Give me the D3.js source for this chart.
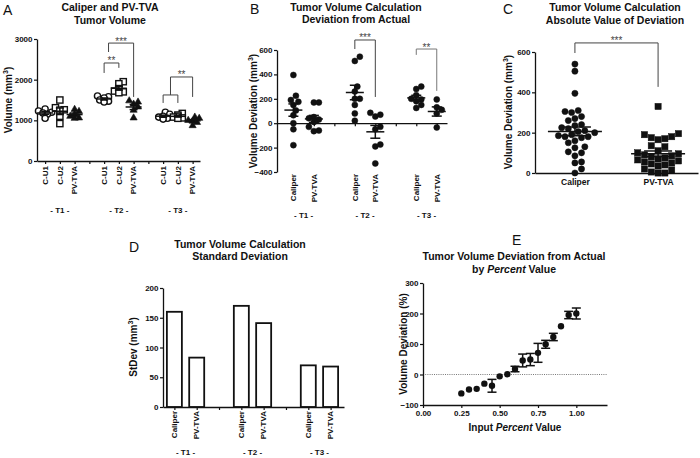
<!DOCTYPE html>
<html><head><meta charset="utf-8">
<script src="https://cdn.jsdelivr.net/npm/d3@7"></script>
<style>body{margin:0;background:#fff}</style>
</head><body><svg id="chart" width="700" height="458"></svg>
<script>
// ================= DATA =================
// Panel A – Caliper and PV-TVA Tumor Volume (mm3)
const aGroups = ["- T1 -", "- T2 -", "- T3 -"];
const aCategories = ["C-U1", "C-U2", "PV-TVA"];
const aCU1 = [[1280,1230,1200,1180,1150,1050],[1600,1580,1550,1500,1470,1450],[1200,1150,1100,1080,1050,1030]];
const aCU2 = [[1500,1310,1260,1250,1100,920],[1950,1900,1780,1720,1700,1680],[1170,1130,1100,1080,1060,1050]];
const aPVTVA = [[1270,1220,1150,1100,1060,1050],[1480,1450,1400,1330,1250,1060],[1080,1050,1000,980,950,870]];
const aYTicks = [0,1000,2000,3000];
// brackets: [left slot, right slot, top, left foot, right foot, label]
const aBrackets = [[4,5,2410,2165,2290,"**"],[4.3,6,2900,2680,1575,"***"],[8,9,1624,1427,1427,""],[8.5,10,2066,1624,1575,"**"]];

// Panel B – Deviation from Actual (mm3)
const bGroups = ["- T1 -", "- T2 -", "- T3 -"];
const bCategories = ["Caliper", "PV-TVA"];
const bCaliper = [[395,225,190,175,150,105,65,0,-50,-180],[545,510,300,260,200,200,150,80,20],[300,280,230,200,195,180,150,125]];
const bPVTVA = [[170,170,50,40,30,10,-30,-60,-65],[85,70,55,-30,-50,-175,-190,-330],[195,130,110,80,-35]];
const bYTicks = [-400,-200,0,200,400,600];
const bBrackets = [[3,4,682,608,215,"***"],[6,7,608,560,265,"**"]];

// Panel C – Absolute value of deviation (mm3)
const cCategories = ["Caliper", "PV-TVA"];
const cCaliper = [540,505,395,310,305,300,280,270,260,240,235,225,220,210,205,200,190,185,180,180,175,160,150,130,125,105,100,85,55,50,20,0];
const cPVTVA = [330,195,190,180,175,170,165,135,130,110,100,95,90,85,80,75,70,65,60,55,50,45,40,35,20,15,5,0,0];
const cYTicks = [0,200,400,600];
const cBracket = [645,595,427,"***"];

// Panel D – Standard deviation (mm3)
const dGroups = ["- T1 -", "- T2 -", "- T3 -"];
const dCategories = ["Caliper", "PV-TVA"];
const dCaliper = [160,170,70];
const dPVTVA = [83,141,68];
const dYTicks = [0,50,100,150,200];

// Panel E – Deviation by percent value (%)
const ePercent = [0.25,0.30,0.35,0.40,0.45,0.50,0.55,0.60,0.65,0.70,0.75,0.80,0.85,0.90,0.95,1.00];
const eMean =    [-62,-49,-47,-30,-37,-6,1,18,46,49,71,99,123,158,195,200];
const eErr =     [0,0,0,0,21,0,0,9,21,20,31,13,12,0,12,18];
const eXTicks = [0,0.25,0.5,0.75,1.0];
const eYTicks = [-100,0,100,200,300];

// ================= HELPERS =================
const F = "'Liberation Sans', Arial, Helvetica, sans-serif";
const INK = "#111";
const svg = d3.select("#chart");

function txt(x, y, s, o = {}) {
  const t = svg.append("text").attr("x", x).attr("y", y).text(s)
    .attr("font-family", F).attr("font-size", o.size || 8)
    .attr("font-weight", o.weight || "bold")
    .attr("text-anchor", o.anchor || "middle").attr("fill", o.fill || INK);
  if (o.rotate) t.attr("transform", `rotate(-90,${x},${y})`);
  if (o.dy) t.attr("dy", o.dy);
  return t;
}
function rotTitle(x, y, pre, sup, post, size = 10) {
  const t = svg.append("text").attr("transform", `translate(${x},${y}) rotate(-90)`)
    .attr("text-anchor", "middle").attr("font-family", F).attr("font-weight", "bold")
    .attr("font-size", size).attr("fill", INK);
  t.append("tspan").text(pre);
  if (sup) {
    t.append("tspan").attr("dy", -size * 0.4).attr("font-size", size * 0.7).text(sup);
    t.append("tspan").attr("dy", size * 0.4).text(post);
  }
  return t;
}
function title(x, y, lines, size = 10.5) {
  lines.forEach((l, i) => txt(x, y + i * 12.5, l, { size }));
}
function letter(x, y, s) { txt(x, y, s, { size: 14, weight: "normal", anchor: "start" }); }
function styleAxis(g) {
  g.attr("font-size", null).attr("font-family", null);
  g.select(".domain").attr("stroke", INK).attr("stroke-width", 1.3);
  g.selectAll(".tick line").attr("stroke", INK).attr("stroke-width", 1.2);
  g.selectAll(".tick text").attr("font-family", F).attr("font-weight", "bold")
    .attr("font-size", 8).attr("fill", INK);
  return g;
}
function yAxis(scale, x, ticks) {
  return styleAxis(svg.append("g").attr("transform", `translate(${x},0)`)
    .call(d3.axisLeft(scale).tickValues(ticks).tickFormat(d3.format("d")).tickSize(3).tickSizeOuter(0).tickPadding(1.5)));
}
function slotAxis(scale, y, slots) {
  return styleAxis(svg.append("g").attr("transform", `translate(0,${y})`)
    .call(d3.axisBottom(scale).tickValues(slots).tickFormat("").tickSize(3).tickSizeOuter(0)));
}
// simple beeswarm: returns horizontal offsets
function swarm(ys, d, maxOff) {
  const idx = d3.range(ys.length).sort((a, b) => ys[b] - ys[a]);
  const placed = [], off = new Array(ys.length).fill(0);
  for (const i of idx) {
    let best = 0;
    for (let s = 0; s < 60; s++) {
      const c = s === 0 ? 0 : (s % 2 ? 1 : -1) * Math.ceil(s / 2) * d * 0.5;
      if (Math.abs(c) > maxOff) { best = 0; break; }
      if (placed.every(p => Math.hypot(p.x - c, p.y - ys[i]) >= d)) { best = c; break; }
    }
    off[i] = best; placed.push({ x: best, y: ys[i] });
  }
  return off;
}
function column(vals, cx, y, o) {
  const ys = vals.map(y);
  const offs = swarm(ys, o.d, o.maxOff || 40);
  const g = svg.append("g");
  vals.forEach((v, i) => {
    const px = cx + offs[i], py = ys[i];
    if (o.shape === "circle") {
      g.append("circle").attr("cx", px).attr("cy", py).attr("r", o.r)
        .attr("fill", o.open ? "#fff" : INK).attr("stroke", INK).attr("stroke-width", o.open ? 1.4 : 0.5);
    } else if (o.shape === "square") {
      g.append("rect").attr("x", px - o.r).attr("y", py - o.r).attr("width", 2 * o.r).attr("height", 2 * o.r)
        .attr("fill", o.open ? "#fff" : INK).attr("stroke", INK).attr("stroke-width", o.open ? 1.4 : 0.5);
    } else {
      g.append("path").attr("transform", `translate(${px},${py})`)
        .attr("d", d3.symbol(d3.symbolTriangle, 22)())
        .attr("fill", INK).attr("stroke", INK).attr("stroke-width", 0.6);
    }
  });
  const m = d3.mean(vals), sem = d3.deviation(vals) / Math.sqrt(vals.length);
  const lg = svg.append("g").attr("stroke", INK).attr("stroke-width", 1.5);
  lg.append("line").attr("x1", cx - o.mh).attr("x2", cx + o.mh).attr("y1", y(m)).attr("y2", y(m));
  lg.append("line").attr("x1", cx).attr("x2", cx).attr("y1", y(m - sem)).attr("y2", y(m + sem));
  [m - sem, m + sem].forEach(v => lg.append("line").attr("x1", cx - o.ch).attr("x2", cx + o.ch).attr("y1", y(v)).attr("y2", y(v)));
}
function bracket(x1, x2, yTop, yL, yR, label, color = "#444") {
  const p = d3.path();
  p.moveTo(x1, yL); p.lineTo(x1, yTop); p.lineTo(x2, yTop); p.lineTo(x2, yR);
  svg.append("path").attr("d", p.toString()).attr("fill", "none").attr("stroke", color).attr("stroke-width", 1);
  if (label) txt((x1 + x2) / 2, yTop + 1.5, label, { size: 10, weight: "normal", fill: "#444" });
}

// ================= PANEL A =================
{
  const y = d3.scaleLinear().domain([0, 3000]).range([161, 39]);
  const x = d3.scaleLinear().domain([-0.55, 10.5]).range([37, 200]);
  letter(3, 15, "A");
  title(110, 11, ["Caliper and PV-TVA", "Tumor Volume"]);
  yAxis(y, 37, aYTicks);
  slotAxis(x, 161, d3.range(0, 11));
  rotTitle(11.5, 100, "Volume (mm", "3", ")");
  const series = [[aCU1, "circle", true], [aCU2, "square", true], [aPVTVA, "tri", false]];
  aGroups.forEach((gname, gi) => {
    series.forEach(([arr, shape, open], si) => {
      const slot = gi * 4 + si;
      column(arr[gi], x(slot), y, { shape, open, r: 3.1, d: 4.4, maxOff: 7, mh: 8, ch: 4 });
      txt(x(slot), 166, aCategories[si], { rotate: true, anchor: "end", dy: "0.35em" });
    });
    txt(x(gi * 4 + 1), 213, gname);
  });
  aBrackets.forEach(b => bracket(x(b[0]), x(b[1]), y(b[2]), y(b[3]), y(b[4]), b[5]));
}

// ================= PANEL B =================
{
  const y = d3.scaleLinear().domain([-400, 600]).range([172, 50]);
  const x = d3.scaleLinear().domain([-0.8, 7.5]).range([277, 447]);
  letter(250, 14, "B");
  title(356, 10.5, ["Tumor Volume Calculation", "Deviation from Actual"]);
  yAxis(y, 277, bYTicks);
  slotAxis(x, y(0), d3.range(0, 8));
  rotTitle(257, 111, "Volume Deviation (mm", "3", ")");
  bGroups.forEach((gname, gi) => {
    [bCaliper, bPVTVA].forEach((arr, si) => {
      const slot = gi * 3 + si;
      column(arr[gi], x(slot), y, { shape: "circle", open: false, r: 3, d: 5, maxOff: 9, mh: 9, ch: 5 });
      txt(x(slot), 174, bCategories[si], { rotate: true, anchor: "end", dy: "0.35em" });
    });
    txt(x(gi * 3 + 0.5), 218, gname);
  });
  bBrackets.forEach((b, i) => bracket(x(b[0]), x(b[1]), y(b[2]), y(b[3]), y(b[4]), b[5], i === 1 ? "#777" : "#444"));
}

// ================= PANEL C =================
{
  const y = d3.scaleLinear().domain([0, 600]).range([173, 52]);
  const x = d3.scalePoint().domain(cCategories).range([535, 698]).padding(0.48);
  letter(503, 14, "C");
  title(615, 11, ["Tumor Volume Calculation", "Absolute Value of Deviation"]);
  yAxis(y, 535, cYTicks);
  const xa = styleAxis(svg.append("g").attr("transform", "translate(0,173)")
    .call(d3.axisBottom(x).tickSize(0).tickSizeOuter(0).tickPadding(6)));
  xa.selectAll(".tick text").attr("font-size", 8.5);
  rotTitle(512, 112, "Volume Deviation (mm", "3", ")");
  column(cCaliper, x("Caliper"), y, { shape: "circle", open: false, r: 3.1, d: 6.6, maxOff: 30, mh: 27, ch: 16 });
  column(cPVTVA, x("PV-TVA"), y, { shape: "square", open: false, r: 3.1, d: 6.8, maxOff: 30, mh: 27, ch: 14 });
  bracket(x("Caliper"), x("PV-TVA"), y(cBracket[0]), y(cBracket[1]), y(cBracket[2]), cBracket[3]);
}

// ================= PANEL D =================
{
  const y = d3.scaleLinear().domain([0, 200]).range([407, 288]);
  const x = d3.scaleLinear().domain([-0.51, 7.6]).range([163, 344]);
  letter(129, 252, "D");
  title(240, 247.5, ["Tumor Volume Calculation", "Standard Deviation"]);
  const bw = 15;
  dGroups.forEach((gname, gi) => {
    [dCaliper, dPVTVA].forEach((arr, si) => {
      const slot = gi * 3 + si;
      svg.append("rect").attr("x", x(slot) - bw / 2).attr("y", y(arr[gi]))
        .attr("width", bw).attr("height", y(0) - y(arr[gi]))
        .attr("fill", "#fff").attr("stroke", INK).attr("stroke-width", 1.8);
      txt(x(slot), 411, dCategories[si], { rotate: true, anchor: "end", dy: "0.35em" });
    });
    txt(x(gi * 3 + 0.5), 455, gname);
  });
  yAxis(y, 163, dYTicks);
  slotAxis(x, 407, d3.range(0, 8));
  rotTitle(136.5, 347, "StDev (mm", "3", ")");
}

// ================= PANEL E =================
{
  const x = d3.scaleLinear().domain([0, 1.2]).range([423, 607]);
  const y = d3.scaleLinear().domain([-100, 300]).range([405, 283]);
  letter(512, 245, "E");
  txt(514, 260, "Tumor Volume Deviation from Actual", { size: 10.5 });
  const t2 = svg.append("text").attr("x", 514).attr("y", 272.5).attr("text-anchor", "middle")
    .attr("font-family", F).attr("font-weight", "bold").attr("font-size", 10.5).attr("fill", INK);
  t2.append("tspan").text("by ");
  t2.append("tspan").attr("font-style", "italic").text("Percent");
  t2.append("tspan").text(" Value");
  svg.append("line").attr("x1", x(0)).attr("x2", x(1.2)).attr("y1", y(0)).attr("y2", y(0))
    .attr("stroke", "#555").attr("stroke-width", 0.8).attr("stroke-dasharray", "1,1.2");
  yAxis(y, 423, eYTicks);
  styleAxis(svg.append("g").attr("transform", "translate(0,405)")
    .call(d3.axisBottom(x).tickValues(eXTicks).tickFormat(d3.format(".2f")).tickSize(3).tickSizeOuter(0).tickPadding(2)));
  rotTitle(407, 344, "Volume Deviation (%)", null, null);
  const xl = svg.append("text").attr("x", 515).attr("y", 431).attr("text-anchor", "middle")
    .attr("font-family", F).attr("font-weight", "bold").attr("font-size", 10).attr("fill", INK);
  xl.append("tspan").text("Input ");
  xl.append("tspan").attr("font-style", "italic").text("Percent");
  xl.append("tspan").text(" Value");
  const eg = svg.append("g").attr("stroke", INK).attr("stroke-width", 1.5);
  ePercent.forEach((p, i) => {
    if (eErr[i] > 0) {
      const lo = y(eMean[i] - eErr[i]), hi = y(eMean[i] + eErr[i]);
      eg.append("line").attr("x1", x(p)).attr("x2", x(p)).attr("y1", lo).attr("y2", hi);
      [lo, hi].forEach(v => eg.append("line").attr("x1", x(p) - 4.5).attr("x2", x(p) + 4.5).attr("y1", v).attr("y2", v));
    }
  });
  svg.append("g").selectAll("circle").data(ePercent).join("circle")
    .attr("cx", d => x(d)).attr("cy", (d, i) => y(eMean[i])).attr("r", 3.2).attr("fill", INK);
}
</script>
</body></html>
